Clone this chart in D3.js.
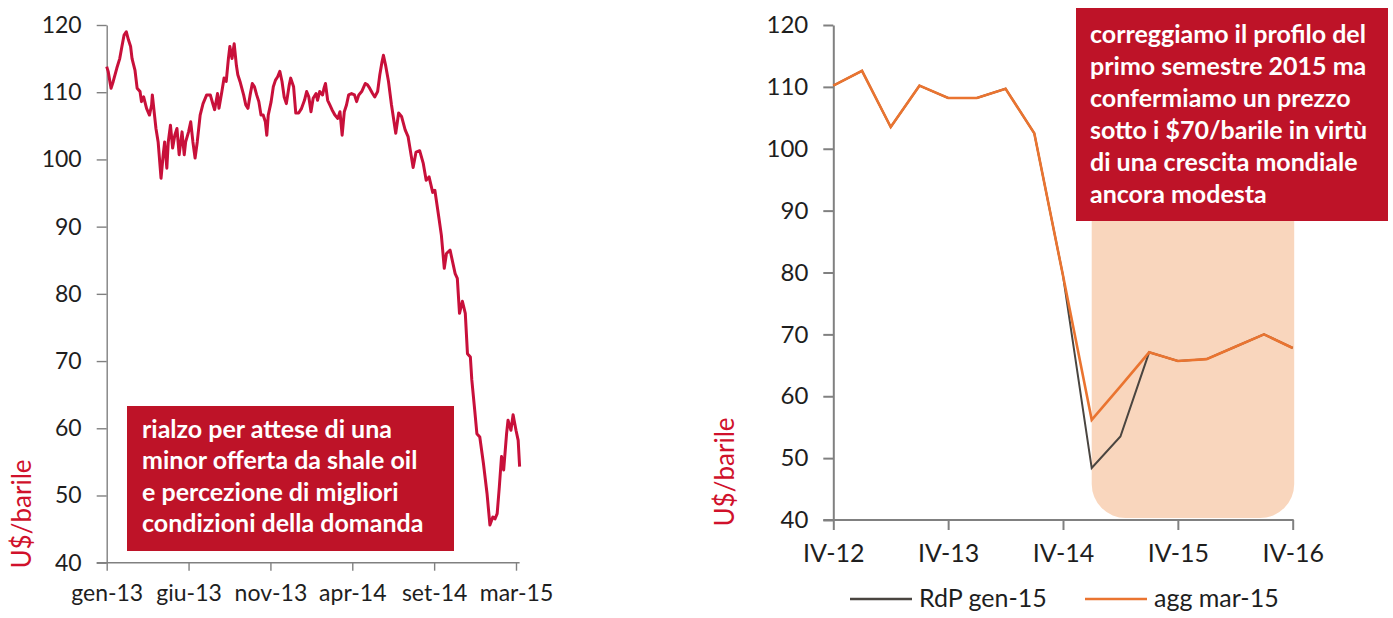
<!DOCTYPE html>
<html>
<head>
<meta charset="utf-8">
<script src="https://cdn.jsdelivr.net/npm/d3@7"></script>
<style>
  html, body { margin: 0; padding: 0; background: #fff; }
  svg { display: block; font-family: Lato, "Open Sans", sans-serif; }
</style>
</head>
<body>
<svg id="chart" width="1393" height="618"></svg>
<script>
// ---- Left panel: Brent daily price (trading-day index) ----
const brentDay = [0,2,6,9,14,18,21,24,27,30,33,35,39,42,46,48,51,55,59,62,63,66,68,71,75,78,80,83,85,88,91,94,97,100,104,107,109,113,116,119,122,125,129,133,138,143,147,149,153,155,159,162,165,168,170,173,176,179,181,184,189,192,195,198,201,204,207,210,213,216,219,221,223,227,230,233,236,239,242,245,248,252,254,258,261,265,269,273,276,279,282,285,289,291,294,298,300,302,305,308,311,315,319,322,325,328,331,334,338,342,345,348,352,357,360,363,367,370,374,377,380,382,385,389,393,399,403,407,412,416,423,427,432,437,441,445,450,453,459,462,466,469,474,481,484,487,491,495,498,502,504,508,511,515,520,525,529,533,536,539,542,545,548,552,554,558,561,565,568,570];
const brentPrice = [113.8,113.1,110.6,111.6,113.6,115.0,116.8,118.5,119.0,117.8,116.8,115.0,113.3,110.6,110.1,108.6,109.3,107.6,106.6,108.1,109.6,106.6,104.6,102.6,97.2,100.7,102.6,98.7,102.6,105.1,101.7,103.6,104.6,100.7,104.1,100.7,102.6,104.1,105.6,102.6,100.2,102.6,106.6,108.3,109.6,109.6,108.1,107.4,109.8,107.6,110.1,112.1,111.6,115.0,116.8,115.0,117.2,114.0,112.6,111.6,109.6,108.1,107.6,109.6,111.3,110.8,109.6,108.6,106.6,106.6,105.6,103.6,106.6,108.6,110.8,111.8,112.3,113.1,111.6,109.3,108.3,111.1,112.1,110.8,106.9,106.9,107.6,108.8,110.1,109.3,107.1,109.1,109.8,108.8,110.1,109.6,110.6,111.3,108.8,108.1,107.4,106.6,106.1,107.1,103.6,107.1,108.1,109.6,109.8,109.6,108.6,109.6,110.1,111.3,111.1,110.6,109.8,109.3,110.1,112.6,114.5,115.5,114.0,111.6,108.2,103.9,106.9,106.4,104.4,103.4,98.8,101.1,101.3,99.4,96.9,97.4,95.1,95.4,91.0,88.7,83.8,86.0,86.5,83.0,82.3,77.1,78.9,77.1,71.1,70.6,67.2,62.7,59.2,58.7,54.8,50.3,45.6,46.8,46.5,47.3,51.3,55.8,53.8,59.2,61.2,59.7,62.0,59.7,58.2,54.3];
const leftTickDays = [0,113,226,339,452,565];
const leftTickLabels = ["gen-13","giu-13","nov-13","apr-14","set-14","mar-15"];
const leftNote = ["rialzo per attese di una","minor offerta da shale oil","e percezione di migliori","condizioni della domanda"];

// ---- Right panel: quarterly averages and forecasts ----
const quarters = ["IV-12","I-13","II-13","III-13","IV-13","I-14","II-14","III-14","IV-14","I-15","II-15","III-15","IV-15","I-16","II-16","III-16","IV-16"];
const rdpGen15 = [110.2,112.6,103.5,110.2,108.2,108.2,109.7,102.5,79.5,48.4,53.5,67.1,65.7,66.0,68.0,70.0,67.8];
const aggMar15 = [110.2,112.6,103.5,110.2,108.2,108.2,109.7,102.5,79.5,56.2,61.6,67.1,65.7,66.0,68.0,70.0,67.8];
const rightTickLabels = ["IV-12","IV-13","IV-14","IV-15","IV-16"];
const forecastStart = "I-15", forecastEnd = "IV-16";
const rightNote = ["correggiamo il profilo del","primo semestre 2015 ma","confermiamo un prezzo","sotto i $70/barile in virtù","di una crescita mondiale","ancora modesta"];
const yTicks = [40,50,60,70,80,90,100,110,120];

const svg = d3.select("#chart");
const AXIS = "#808080", TEXT = "#1e1e1e", RED = "#be1328", LINE_RED = "#c8103a";

function styleAxis(g, w) {
  g.select(".domain").attr("stroke", AXIS).attr("stroke-width", w);
  g.selectAll(".tick line").attr("stroke", AXIS).attr("stroke-width", w);
  g.selectAll(".tick text").attr("fill", TEXT).style("font-family", "Lato, sans-serif");
}

// ===== Left chart =====
const xL = d3.scaleLinear().domain([0, 565]).range([106.7, 516]);
const yL = d3.scaleLinear().domain([40, 120]).range([562.7, 25]);

const gLy = svg.append("g").attr("transform", "translate(106.7,0)")
  .call(d3.axisLeft(yL).tickValues(yTicks).tickSize(10).tickPadding(15).tickSizeOuter(0));
gLy.selectAll(".tick text").style("font-size", "23px");
styleAxis(gLy, 1.4);

const gLx = svg.append("g").attr("transform", "translate(0,562.7)")
  .call(d3.axisBottom(xL).tickValues(leftTickDays).tickFormat((d, i) => leftTickLabels[i]).tickSize(8).tickPadding(14).tickSizeOuter(0));
gLx.select(".domain").attr("d", `M${106.7 - 10},0H${xL(570)}`);
gLx.selectAll(".tick text").style("font-size", "23px");
styleAxis(gLx, 1.4);

const lineL = d3.line().x((d, i) => xL(brentDay[i])).y(d => yL(d));
svg.append("path").datum(brentPrice)
  .attr("d", lineL).attr("fill", "none").attr("stroke", LINE_RED)
  .attr("stroke-width", 3).attr("stroke-linejoin", "round");

svg.append("text").attr("transform", "translate(31,514) rotate(-90)")
  .attr("text-anchor", "middle").attr("fill", "#d0112b")
  .style("font-size", "26px").text("U$/barile");

svg.append("rect").attr("x", 127).attr("y", 406).attr("width", 327).attr("height", 145).attr("fill", RED);
svg.append("g").selectAll("text").data(leftNote).join("text")
  .attr("x", 142).attr("y", (d, i) => 438 + i * 31.3)
  .attr("fill", "#fff").style("font-size", "25px").style("font-weight", "bold").text(d => d);

// ===== Right chart =====
const xR = d3.scalePoint().domain(quarters).range([833.3, 1292.7]);
const yR = d3.scaleLinear().domain([40, 120]).range([520, 25]);

// forecast band with rounded lower corners
{
  const x0 = xR(forecastStart), x1 = xR(forecastEnd) + 1.5, yTop = yR(118), yBot = yR(40) - 2, r = 34;
  const p = d3.path();
  p.moveTo(x0, yTop); p.lineTo(x1, yTop); p.lineTo(x1, yBot - r);
  p.arcTo(x1, yBot, x1 - r, yBot, r); p.lineTo(x0 + r, yBot);
  p.arcTo(x0, yBot, x0, yBot - r, r); p.closePath();
  svg.append("path").attr("d", p.toString()).attr("fill", "#f9d6bd");
}

const gRy = svg.append("g").attr("transform", "translate(833.3,0)")
  .call(d3.axisLeft(yR).tickValues(yTicks).tickSize(10).tickPadding(15).tickSizeOuter(0));
gRy.selectAll(".tick text").style("font-size", "24px");
styleAxis(gRy, 2);

const gRx = svg.append("g").attr("transform", "translate(0,520)")
  .call(d3.axisBottom(xR).tickValues(rightTickLabels).tickSize(10).tickPadding(14).tickSizeOuter(0));
gRx.select(".domain").attr("d", `M${833.3 - 10},0H${xR(forecastEnd) + 1}`);
gRx.selectAll(".tick text").style("font-size", "25px");
styleAxis(gRx, 2);

const lineR = d3.line().x((d, i) => xR(quarters[i])).y(d => yR(d));
svg.append("path").datum(rdpGen15).attr("d", lineR).attr("fill", "none")
  .attr("stroke", "#4a4540").attr("stroke-width", 2);
svg.append("path").datum(aggMar15).attr("d", lineR).attr("fill", "none")
  .attr("stroke", "#ea7430").attr("stroke-width", 2.6);

svg.append("text").attr("transform", "translate(734,472) rotate(-90)")
  .attr("text-anchor", "middle").attr("fill", "#d0112b")
  .style("font-size", "26px").text("U$/barile");

svg.append("rect").attr("x", 1076).attr("y", 8).attr("width", 312).attr("height", 213).attr("fill", RED);
svg.append("g").selectAll("text").data(rightNote).join("text")
  .attr("x", 1090).attr("y", (d, i) => 43 + i * 32)
  .attr("fill", "#fff").style("font-size", "25px").style("font-weight", "bold").text(d => d);

// legend
const legend = [
  { name: "RdP gen-15", color: "#4a4540", x: 850 },
  { name: "agg mar-15", color: "#ea7430", x: 1085 }
];
const lg = svg.append("g").selectAll("g").data(legend).join("g");
lg.append("line").attr("x1", d => d.x).attr("x2", d => d.x + 62)
  .attr("y1", 599).attr("y2", 599).attr("stroke", d => d.color).attr("stroke-width", 2.4);
lg.append("text").attr("x", d => d.x + 69).attr("y", 607)
  .attr("fill", TEXT).style("font-size", "25px").text(d => d.name);
</script>
</body>
</html>
